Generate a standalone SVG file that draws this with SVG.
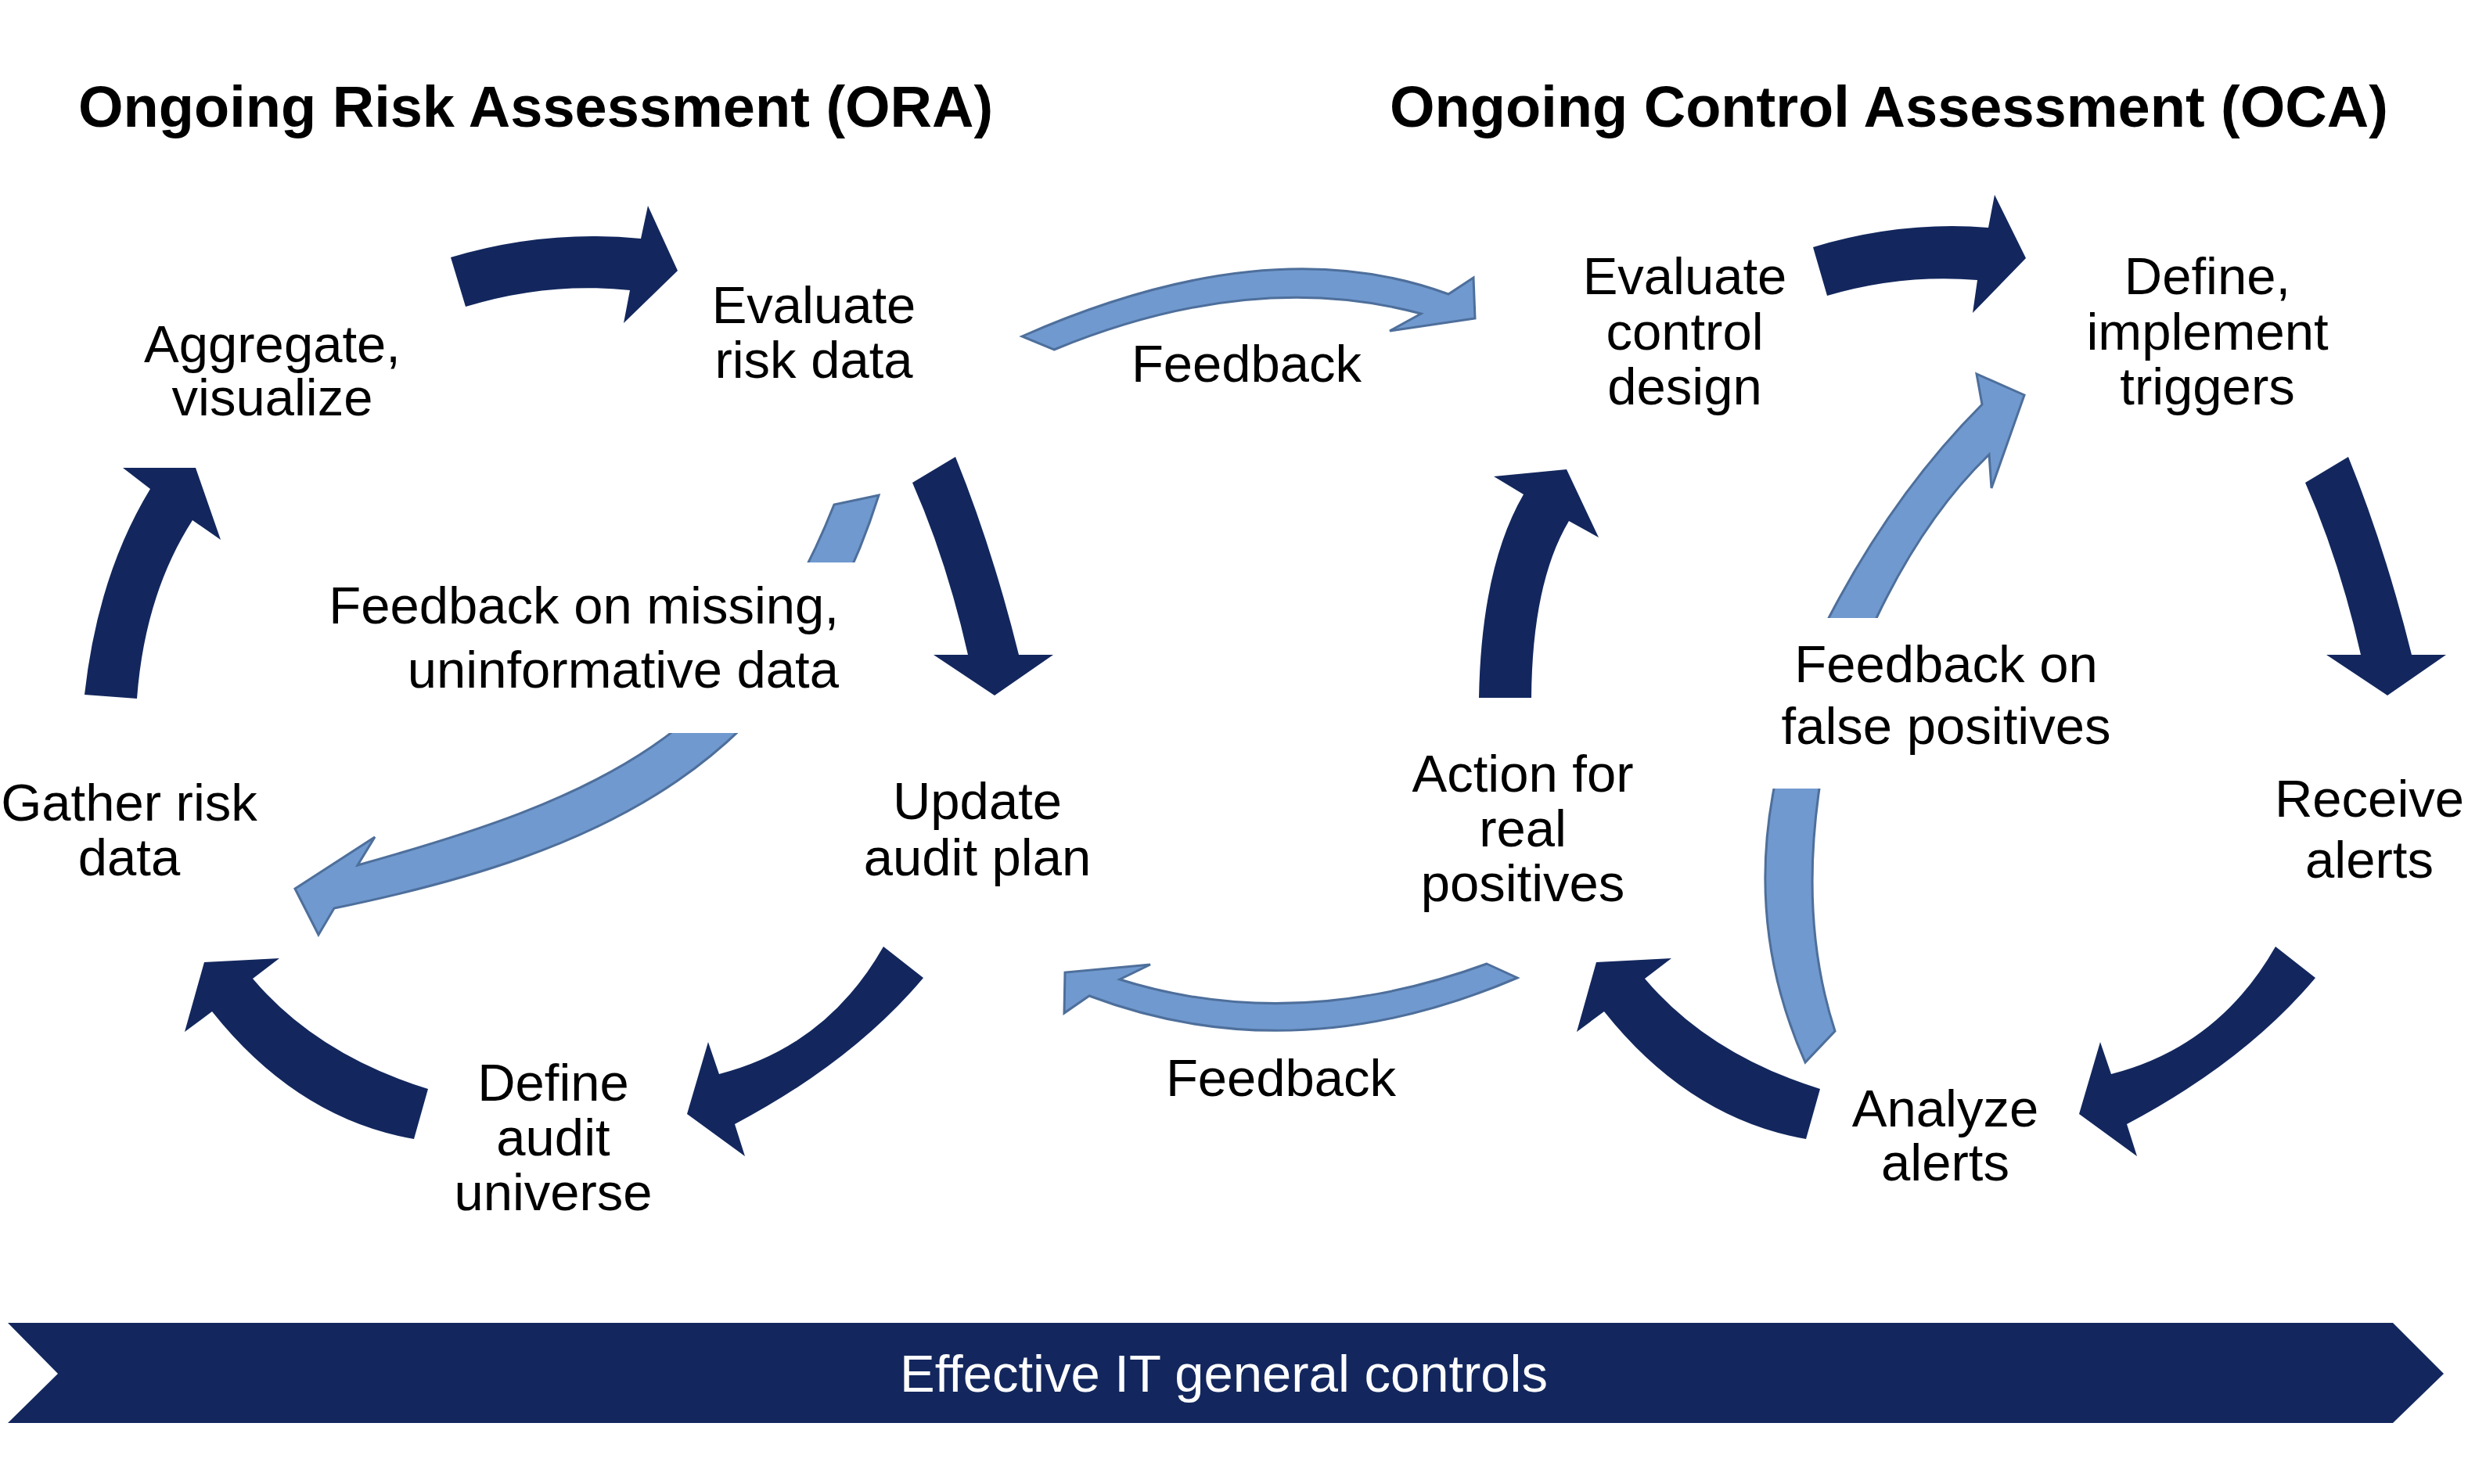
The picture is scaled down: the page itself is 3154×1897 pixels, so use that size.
<svg xmlns="http://www.w3.org/2000/svg" width="3154" height="1897" viewBox="0 0 3154 1897">
<style>
.dark{fill:#13275e;stroke:none}
.light{fill:#7099cf;stroke:#4e6f9b;stroke-width:3;stroke-linejoin:miter}
.lbl{font-family:"Liberation Sans",Arial,sans-serif;font-size:67px;fill:#000;text-anchor:middle}
.ttl{font-family:"Liberation Sans",Arial,sans-serif;font-size:74px;font-weight:bold;fill:#000}
.mask{fill:#fff;stroke:none}
</style>
<rect width="3154" height="1897" fill="#fff"/>
<g id="connectors">
  <path id="a1" class="dark" d="M576,329 Q696,293 819,305 L828,263 L866,346 L797,413 L805,371 Q700,360 595,392 Z"/>
  <path id="a2" class="dark" d="M1221,584 Q1268,700 1302,837 L1346,837 L1271,889 L1193,837 L1237,837 Q1210,717 1166,617 Z"/>
  <path id="a3" class="dark" d="M1129,1210 L1180,1250 Q1090,1357 939,1437 L952,1478 L878,1424 L905,1332 L919,1373 Q1056,1338 1129,1210 Z"/>
  <path id="a4" class="dark" d="M547,1392 L529,1456 Q380,1430 271,1293 L236,1319 L261,1230 L357,1225 L323,1251 Q405,1348 547,1392 Z"/>
  <path id="a5" class="dark" d="M108,888 Q125,735 192,625 L157,598 L250,598 L282,690 L246,665 Q185,760 175,893 Z"/>
  <path id="a6" class="dark" d="M2317,316 Q2430,282 2541,291 L2549,249 L2589,330 L2521,400 L2527,358 Q2430,350 2335,378 Z"/>
  <path id="a7" class="dark" d="M3001,584 Q3048,700 3082,837 L3126,837 L3051,889 L2973,837 L3017,837 Q2990,717 2946,617 Z"/>
  <path id="a8" class="dark" d="M2908,1210 L2959,1250 Q2869,1357 2718,1437 L2731,1478 L2657,1424 L2684,1332 L2698,1373 Q2835,1338 2908,1210 Z"/>
  <path id="a9" class="dark" d="M2326,1392 L2308,1456 Q2159,1430 2050,1293 L2015,1319 L2040,1230 L2136,1225 L2102,1251 Q2184,1348 2326,1392 Z"/>
  <path id="a10" class="dark" d="M1890,892 Q1893,725 1947,632 L1909,609 L2002,600 L2043,687 L2005,666 Q1958,745 1957,892 Z"/>
  <path id="f1" class="light" d="M1306,430 Q1621,291 1851,376 L1883,355 L1885,407 L1776,423 L1816,401 Q1600,343 1347,447 Z"/>
  <path id="f2" class="light" d="M1939,1250 Q1654,1372 1392,1273 L1360,1295 L1361,1243 L1470,1233 L1431,1252 Q1654,1322 1900,1232 Z"/>
  <path id="f3" class="light" d="M1123,633 C1015,975 776,1089 427,1161 L407,1195 L377,1136 L479,1070 L457,1106 C764,1020 948,943 1066,645 Z"/>
  <path id="f4" class="light" d="M2307,1358 Q2232,1190 2267,1008 Q2285,890 2337,790 Q2420,630 2533,517 L2526,478 L2587,505 L2545,624 L2542,581 Q2460,660 2398,790 Q2340,890 2325,1008 Q2300,1180 2345,1318 Z"/>
</g>
<g id="titles">
  <text class="ttl" x="100" y="162">Ongoing Risk Assessment (ORA)</text>
  <text class="ttl" x="1776" y="162">Ongoing Control Assessment (OCA)</text>
</g>
<g id="node-aggregate"><text class="lbl" x="348" y="463">Aggregate,</text><text class="lbl" x="348" y="531">visualize</text></g>
<g id="node-evaluate-risk"><text class="lbl" x="1040" y="413">Evaluate</text><text class="lbl" x="1040" y="483">risk data</text></g>
<g id="node-update"><text class="lbl" x="1249" y="1047">Update</text><text class="lbl" x="1249" y="1119">audit plan</text></g>
<g id="node-define-universe"><text class="lbl" x="707" y="1407">Define</text><text class="lbl" x="707" y="1477">audit</text><text class="lbl" x="707" y="1547">universe</text></g>
<g id="node-gather"><text class="lbl" x="165" y="1049">Gather risk</text><text class="lbl" x="165" y="1119">data</text></g>
<g id="node-evaluate-control"><text class="lbl" x="2153" y="376">Evaluate</text><text class="lbl" x="2153" y="447">control</text><text class="lbl" x="2153" y="517">design</text></g>
<g id="node-define-triggers"><text class="lbl" x="2821" y="376">Define,</text><text class="lbl" x="2821" y="447">implement</text><text class="lbl" x="2821" y="517">triggers</text></g>
<g id="node-receive"><text class="lbl" x="3028" y="1044">Receive</text><text class="lbl" x="3028" y="1122">alerts</text></g>
<g id="node-analyze"><text class="lbl" x="2486" y="1440">Analyze</text><text class="lbl" x="2486" y="1509">alerts</text></g>
<g id="node-action"><text class="lbl" x="1946" y="1012">Action for</text><text class="lbl" x="1946" y="1082">real</text><text class="lbl" x="1946" y="1152">positives</text></g>
<g id="label-feedback-missing">
  <rect class="mask" x="405" y="719" width="735" height="218"/>
  <text class="lbl" style="text-anchor:end" x="1072" y="797">Feedback on missing,</text>
  <text class="lbl" style="text-anchor:end" x="1072" y="879">uninformative data</text>
</g>
<g id="label-feedback-fp">
  <rect class="mask" x="2240" y="790" width="480" height="218"/>
  <text class="lbl" x="2487" y="872">Feedback on</text>
  <text class="lbl" x="2487" y="951">false positives</text>
</g>
<g id="label-feedback-top"><text class="lbl" x="1593" y="488">Feedback</text></g>
<g id="label-feedback-bottom"><text class="lbl" x="1637" y="1401">Feedback</text></g>
<g id="banner">
  <polygon class="dark" points="10,1691 3058,1691 3123,1756 3058,1819 10,1819 74,1756"/>
  <text class="lbl" style="fill:#fff" x="1564" y="1779">Effective IT general controls</text>
</g>
</svg>
